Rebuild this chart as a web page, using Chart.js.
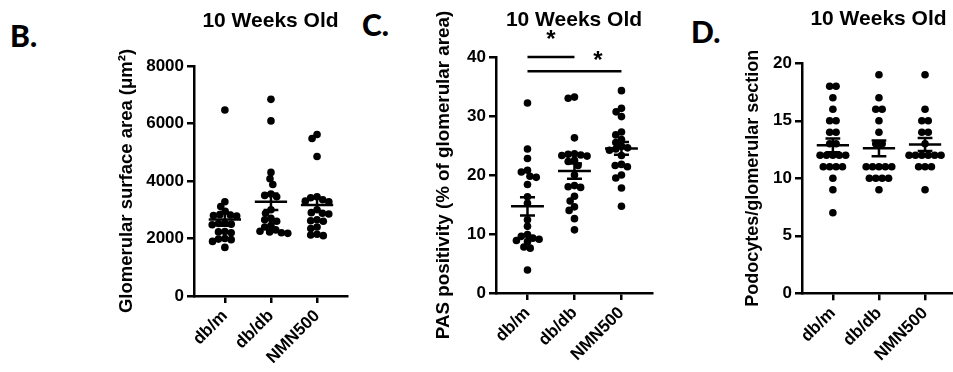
<!DOCTYPE html>
<html>
<head>
<meta charset="utf-8">
<script src="https://cdn.jsdelivr.net/npm/chart.js@4.4.1/dist/chart.umd.min.js"></script>
<style>
  html, body { margin: 0; padding: 0; background: #fff; overflow: hidden; }
  body { width: 953px; height: 372px; position: relative; }
  .panel { position: absolute; top: 0; }
  .panel canvas { display: block; }
  .tag { position: absolute; font-family: Lato, 'Open Sans', sans-serif; font-weight: 900; font-size: 30px; line-height: 1; color: #000; }
</style>
</head>
<body>
<div class="tag" style="left:10px;top:20px">B.</div>
<div class="tag" style="left:362px;top:9px">C.</div>
<div class="tag" style="left:691px;top:16px">D.</div>
<div class="panel" style="left:100px"><canvas id="chartB" width="260" height="372"></canvas></div>
<div class="panel" style="left:420px"><canvas id="chartC" width="240" height="372"></canvas></div>
<div class="panel" style="left:730px"><canvas id="chartD" width="230" height="372"></canvas></div>
<script>
// Treatment groups along the x axis
const groupLabels = ['db/m', 'db/db', 'NMN500'];

// B: glomerular surface area (µm²), one value per animal
const areaDbM  = [6470, 3280, 3110, 2950, 2830, 2820, 2800, 2780, 2530, 2520, 2500, 2480, 2240, 2230, 2200, 2000, 1980, 1960, 1900, 1690];
const areaDbDb = [6840, 6090, 4300, 4080, 3880, 3550, 3500, 3450, 3000, 2880, 2700, 2650, 2600, 2450, 2400, 2300, 2250, 2230, 2200, 2180];
const areaNmn  = [5620, 5480, 4850, 3450, 3420, 3350, 3300, 3280, 3000, 2900, 2880, 2850, 2650, 2620, 2600, 2400, 2350, 2150, 2120, 2100];
const areaTicks = [0, 2000, 4000, 6000, 8000];

// C: PAS positivity (% of glomerular area)
const pasDbM  = [32.2, 24.4, 22.8, 20.8, 20.5, 19.8, 19.6, 18.4, 16.3, 15.2, 12.4, 11.3, 9.9, 9.6, 9.3, 9.1, 8.9, 8.7, 7.8, 7.6, 3.9];
const pasDbDb = [33.2, 33.0, 26.3, 23.6, 23.5, 23.4, 23.3, 23.2, 22.5, 22.3, 21.6, 20.0, 18.2, 18.0, 17.9, 16.4, 15.6, 14.6, 14.0, 12.6, 10.7];
const pasNmn  = [34.3, 31.3, 30.7, 29.9, 27.3, 26.8, 26.0, 25.5, 24.9, 24.6, 24.4, 24.2, 23.3, 21.8, 21.6, 21.4, 20.0, 19.5, 17.8, 14.7];
const pasTicks = [0, 10, 20, 30, 40];

// C: significance brackets (group index from / to, bracket level, mark)
const sigFrom  = [0, 0];
const sigTo    = [1, 2];
const sigLevel = [40, 37.6];
const sigMark  = ['*', '*'];
const sigMarkAt = [0.5, 1.5];

// D: podocytes per glomerular section
const podoDbM  = [18, 18, 17, 16, 15, 15, 14, 14, 13, 13, 12, 12, 12, 12, 12, 11, 11, 11, 11, 10, 9, 7];
const podoDbDb = [19, 17, 16, 16, 15, 14, 13, 13, 11, 11, 11, 11, 11, 10, 10, 10, 10, 9];
const podoNmn  = [19, 16, 15, 15, 14, 14, 13, 12, 12, 12, 12, 12, 12, 11, 11, 11, 9];
const podoTicks = [0, 5, 10, 15, 20];

// ---- drawing ----
const FONT = "'Liberation Sans', Arial, Helvetica, sans-serif";
Chart.defaults.font.family = FONT;
Chart.defaults.color = '#000';

const DOT_R = 3.8;          // dot radius (px)
const DOT_GAP = 6.4;        // centre spacing of neighbouring dots (px)
const MEAN_HALF = 0.35;     // half width of the mean bar (x units)
const CAP_HALF = 0.16;      // half width of the SEM caps (x units)

function meanSem(vals) {
  const n = vals.length;
  const m = vals.reduce((a, b) => a + b, 0) / n;
  const sd = Math.sqrt(vals.reduce((a, b) => a + (b - m) * (b - m), 0) / (n - 1));
  return { m, sem: sd / Math.sqrt(n) };
}

// Place dots of one group side by side so they do not pile up (pixel offsets)
function swarm(vals, yPix, gap, centreRows) {
  const order = vals.map((v, i) => i).sort((a, b) => vals[b] - vals[a]);
  const placed = [];
  const offs = new Array(vals.length).fill(0);
  for (const i of order) {
    const y = yPix(vals[i]);
    const blocked = [];
    for (const p of placed) {
      const dy = Math.abs(p.y - y);
      if (dy < gap) {
        const dx = Math.sqrt(gap * gap - dy * dy);
        blocked.push([p.x - dx, p.x + dx]);
      }
    }
    const cands = [0];
    blocked.forEach(([a, b]) => cands.push(a, b));
    cands.sort((a, b) => Math.abs(a) - Math.abs(b) || a - b);
    const x = cands.find(c => blocked.every(([a, b]) => c <= a + 1e-6 || c >= b - 1e-6));
    placed.push({ x, y, i });
    offs[i] = x;
  }
  if (centreRows) {
    const rows = {};
    vals.forEach((v, i) => { (rows[v] = rows[v] || []).push(i); });
    Object.values(rows).forEach(idx => {
      const mid = idx.reduce((a, i) => a + offs[i], 0) / idx.length;
      idx.forEach(i => { offs[i] -= mid; });
    });
  }
  return offs;
}

const sigPlugin = {
  id: 'sigBars',
  afterDatasetsDraw(chart, args, opts) {
    if (!opts.from) return;
    const { ctx, scales: { x, y } } = chart;
    ctx.save();
    ctx.strokeStyle = '#000';
    ctx.fillStyle = '#000';
    ctx.lineWidth = 2.5;
    ctx.font = 'bold 24px ' + FONT;
    ctx.textAlign = 'center';
    ctx.textBaseline = 'alphabetic';
    opts.from.forEach((f, k) => {
      const yy = y.getPixelForValue(opts.level[k]);
      ctx.beginPath();
      ctx.moveTo(x.getPixelForValue(f), yy);
      ctx.lineTo(x.getPixelForValue(opts.to[k]), yy);
      ctx.stroke();
      ctx.fillText(opts.mark[k], x.getPixelForValue(opts.at[k]), yy - opts.lift[k]);
    });
    ctx.restore();
  }
};

function buildPanel(p) {
  const datasets = p.series.map((vals, g) => ({
    type: 'scatter',
    data: vals.map(v => ({ x: g, y: v })),
    pointRadius: DOT_R,
    pointBackgroundColor: '#000',
    pointBorderWidth: 0,
    order: 2
  }));
  const summary = [];
  p.series.forEach((vals, g) => {
    const { m, sem } = meanSem(vals);
    summary.push(
      { x: g - MEAN_HALF, y: m }, { x: g + MEAN_HALF, y: m }, { x: g, y: null },
      { x: g, y: m - sem }, { x: g, y: m + sem }, { x: g, y: null },
      { x: g - CAP_HALF, y: m + sem }, { x: g + CAP_HALF, y: m + sem }, { x: g, y: null },
      { x: g - CAP_HALF, y: m - sem }, { x: g + CAP_HALF, y: m - sem }, { x: g, y: null }
    );
  });
  datasets.push({
    type: 'scatter',
    data: summary,
    showLine: true,
    spanGaps: false,
    borderColor: '#000',
    borderWidth: 2.5,
    pointRadius: 0,
    order: 1
  });

  const ticks = p.ticks;
  const chart = new Chart(document.getElementById(p.id), {
    type: 'scatter',
    data: { datasets },
    plugins: [sigPlugin],
    options: {
      responsive: false,
      devicePixelRatio: 1,
      animation: false,
      events: [],
      layout: { padding: p.pad },
      plugins: {
        legend: { display: false },
        tooltip: { enabled: false },
        title: {
          display: true,
          fullSize: false,
          text: '10 Weeks Old',
          color: '#000',
          font: { size: 21, weight: 'bold' },
          padding: p.titlePad
        },
        sigBars: p.sig || {}
      },
      scales: {
        x: {
          type: 'linear',
          min: -0.67,
          max: 2.65,
          afterBuildTicks: s => { s.ticks = groupLabels.map((l, i) => ({ value: i })); },
          afterFit: s => { s.height = p.xh; },
          ticks: {
            autoSkip: false,
            minRotation: 45,
            maxRotation: 45,
            padding: 3,
            font: { size: 17, weight: 'bold' },
            callback: v => groupLabels[v]
          },
          grid: { drawOnChartArea: false, drawTicks: true, tickLength: 7, color: '#000', lineWidth: 2.5 },
          border: { display: true, color: '#000', width: 2.5 }
        },
        y: {
          type: 'linear',
          min: ticks[0],
          max: ticks[ticks.length - 1],
          afterBuildTicks: s => { s.ticks = ticks.map(v => ({ value: v })); },
          afterFit: s => { s.width = p.yw; },
          ticks: {
            padding: 3,
            font: { size: 17, weight: 'bold' },
            callback: v => String(v)
          },
          grid: { drawOnChartArea: false, drawTicks: true, tickLength: 7, color: '#000', lineWidth: 2.5 },
          border: { display: true, color: '#000', width: 2.5 },
          title: {
            display: true,
            text: p.yTitle,
            color: '#000',
            font: { size: p.yTitleSize, weight: 'bold' },
            padding: { top: 0, bottom: 0 }
          }
        }
      }
    }
  });

  // spread the dots of each group sideways, using the scales just laid out
  const xs = chart.scales.x, ys = chart.scales.y;
  const pxPerUnit = xs.getPixelForValue(1) - xs.getPixelForValue(0);
  p.series.forEach((vals, g) => {
    const offs = swarm(vals, v => ys.getPixelForValue(v), DOT_GAP, p.discrete);
    chart.data.datasets[g].data = vals.map((v, i) => ({ x: g + offs[i] / pxPerUnit, y: v }));
  });
  chart.update('none');
  return chart;
}

buildPanel({
  id: 'chartB',
  series: [areaDbM, areaDbDb, areaNmn],
  ticks: areaTicks,
  yTitle: 'Glomerular surface area (μm²)',
  yTitleSize: 18.5,
  pad: { left: 16, right: 13, top: 0, bottom: 6 },
  titlePad: { top: 8.4, bottom: 32.4 },
  yw: 78, xh: 70,
  discrete: false
});

buildPanel({
  id: 'chartC',
  series: [pasDbM, pasDbDb, pasNmn],
  ticks: pasTicks,
  yTitle: 'PAS positivity (% of glomerular area)',
  yTitleSize: 18.8,
  pad: { left: 13, right: 8, top: 0, bottom: 9 },
  titlePad: { top: 7.4, bottom: 24.4 },
  yw: 63, xh: 70,
  discrete: false,
  sig: { from: sigFrom, to: sigTo, level: sigLevel, mark: sigMark, at: sigMarkAt, lift: [10, 3] }
});

buildPanel({
  id: 'chartD',
  series: [podoDbM, podoDbDb, podoNmn],
  ticks: podoTicks,
  yTitle: 'Podocytes/glomerular section',
  yTitleSize: 18,
  pad: { left: 12, right: 5, top: 0, bottom: 8.7 },
  titlePad: { top: 6.9, bottom: 31.2 },
  yw: 60, xh: 70,
  discrete: true
});
</script>
</body>
</html>
